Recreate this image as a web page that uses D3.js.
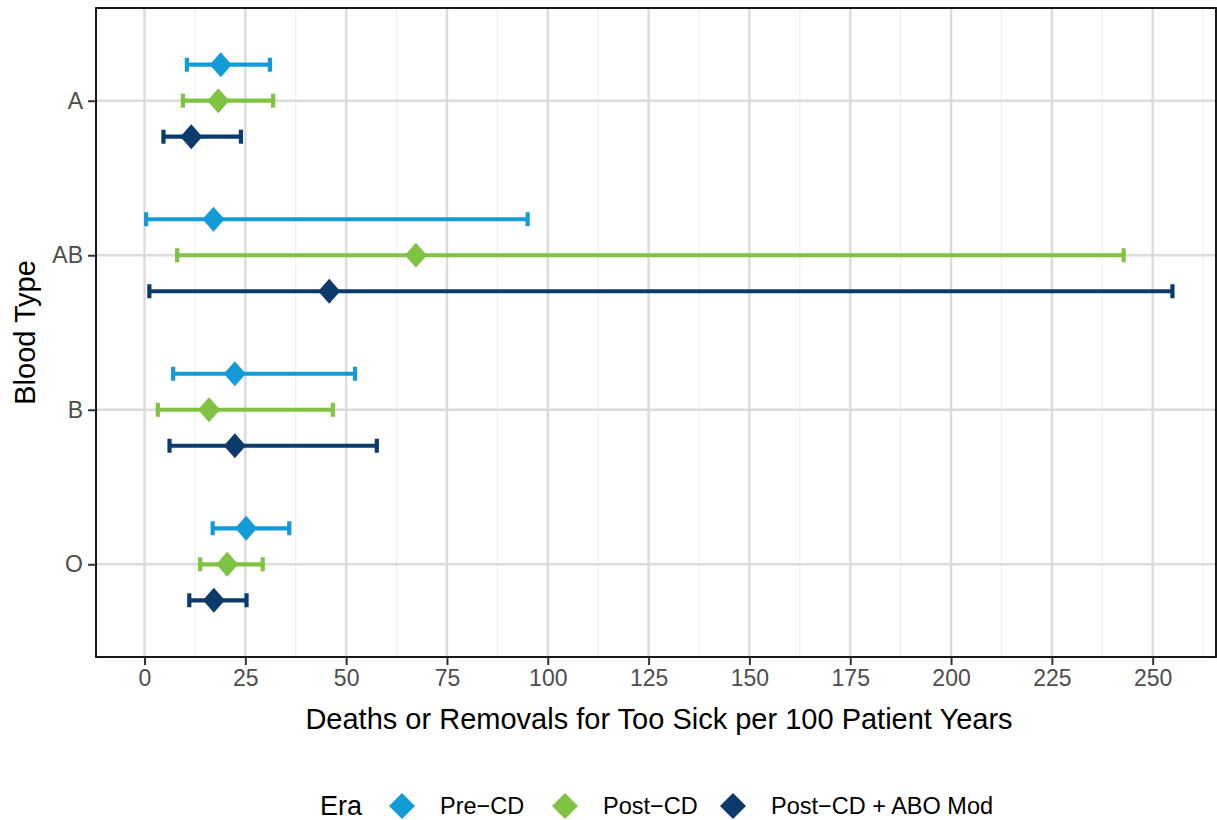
<!DOCTYPE html>
<html>
<head>
<meta charset="utf-8">
<script src="https://cdn.jsdelivr.net/npm/d3@7"></script>
<style>
  body { margin: 0; background: #fff; }
  svg text { font-family: "Liberation Sans", Arial, sans-serif; }
</style>
</head>
<body>
<svg id="chart" width="1217" height="820"></svg>
<script>
// blood types, top to bottom
const bloodTypes = ["A", "AB", "B", "O"]
const eras = ["Pre\u2212CD", "Post\u2212CD", "Post\u2212CD + ABO Mod"]
const eraColors = ["#139bd7", "#80c241", "#0b3a6b"]

// estimates and interval ends, one array per era, ordered like bloodTypes
const preEst = [18.9, 17.1, 22.4, 25.2]
const preLo = [10.5, 0.4, 7.1, 16.9]
const preHi = [31.1, 95.0, 52.2, 35.9]

const postEst = [18.3, 67.3, 16.0, 20.5]
const postLo = [9.5, 8.1, 3.3, 13.8]
const postHi = [31.9, 242.8, 46.7, 29.3]

const aboEst = [11.6, 45.8, 22.4, 17.2]
const aboLo = [4.7, 1.2, 6.2, 11.1]
const aboHi = [23.9, 254.9, 57.6, 25.3]

const xTicks = [0, 25, 50, 75, 100, 125, 150, 175, 200, 225, 250]

const series = [
    {era: eras[0], est: preEst, lo: preLo, hi: preHi},
    {era: eras[1], est: postEst, lo: postLo, hi: postHi},
    {era: eras[2], est: aboEst, lo: aboLo, hi: aboHi}
]
let rows = []
series.forEach(s => bloodTypes.forEach((b, i) => {
    rows.push({era: s.era, type: b, est: s.est[i], lo: s.lo[i], hi: s.hi[i]})
}))

const panel = {left: 96, right: 1216, top: 8, bottom: 657}

let x = d3.scaleLinear()
          .domain([-12.03, 265.7])
          .range([panel.left, panel.right])
let y = d3.scalePoint()
          .domain(bloodTypes)
          .range([panel.top, panel.bottom])
          .padding(0.6)
let dodge = d3.scalePoint()
              .domain(eras)
              .range([-36, 36])
let color = d3.scaleOrdinal()
              .domain(eras)
              .range(eraColors)

const svg = d3.select('#chart')

// diamond, a bit taller than wide like ggplot shape 18
const diamond = (w, h) => `M0,${-h}L${w},0L0,${h}L${-w},0Z`

// grid
let minor = d3.range(12.5, 265, 25)
svg.append('g')
   .selectAll('line')
   .data(minor)
   .enter()
   .append('line')
   .attr('x1', d => x(d)).attr('x2', d => x(d))
   .attr('y1', panel.top).attr('y2', panel.bottom)
   .attr('stroke', '#efefef')
   .attr('stroke-width', 1.2)

svg.append('g')
   .selectAll('line')
   .data(xTicks)
   .enter()
   .append('line')
   .attr('x1', d => x(d)).attr('x2', d => x(d))
   .attr('y1', panel.top).attr('y2', panel.bottom)
   .attr('stroke', '#dbdbdb')
   .attr('stroke-width', 2.4)

svg.append('g')
   .selectAll('line')
   .data(bloodTypes)
   .enter()
   .append('line')
   .attr('x1', panel.left).attr('x2', panel.right)
   .attr('y1', d => y(d)).attr('y2', d => y(d))
   .attr('stroke', '#dbdbdb')
   .attr('stroke-width', 2.4)

// error bars
let bars = svg.append('g')
              .selectAll('g')
              .data(rows)
              .enter()
              .append('g')
              .attr('transform', d => "translate(0, " + (y(d.type) + dodge(d.era)) + ")")
              .attr('stroke', d => color(d.era))
              .attr('fill', d => color(d.era))

bars.append('line')
    .attr('x1', d => x(d.lo)).attr('x2', d => x(d.hi))
    .attr('y1', 0).attr('y2', 0)
    .attr('stroke-width', 4.2)
bars.append('line')
    .attr('x1', d => x(d.lo)).attr('x2', d => x(d.lo))
    .attr('y1', -7).attr('y2', 7)
    .attr('stroke-width', 4.2)
bars.append('line')
    .attr('x1', d => x(d.hi)).attr('x2', d => x(d.hi))
    .attr('y1', -7).attr('y2', 7)
    .attr('stroke-width', 4.2)
bars.append('path')
    .attr('d', diamond(11, 12.5))
    .attr('transform', d => "translate(" + x(d.est) + ", 0)")
    .attr('stroke', 'none')

// panel border
svg.append('rect')
   .attr('x', panel.left).attr('y', panel.top)
   .attr('width', panel.right - panel.left)
   .attr('height', panel.bottom - panel.top)
   .attr('fill', 'none')
   .attr('stroke', '#000')
   .attr('stroke-width', 1.8)

// axes
let xAxis = svg.append('g')
               .attr('transform', "translate(0, " + panel.bottom + ")")
               .call(d3.axisBottom(x).tickValues(xTicks).tickSize(8).tickPadding(5))
let yAxis = svg.append('g')
               .attr('transform', "translate(" + panel.left + ", 0)")
               .call(d3.axisLeft(y).tickSize(8).tickPadding(5))
;[xAxis, yAxis].forEach(a => {
    a.select('.domain').remove()
    a.selectAll('.tick line').attr('stroke', '#333').attr('stroke-width', 2)
    a.selectAll('.tick text')
     .attr('fill', '#4d4d4d')
     .style('font-size', '23px')
})

svg.append('text')
   .attr('x', 659)
   .attr('y', 729)
   .attr('text-anchor', 'middle')
   .style('font-size', '29px')
   .text('Deaths or Removals for Too Sick per 100 Patient Years')

svg.append('text')
   .attr('transform', "translate(35, " + ((panel.top + panel.bottom) / 2) + ") rotate(-90)")
   .attr('text-anchor', 'middle')
   .style('font-size', '29px')
   .text('Blood Type')

// legend
let legend = svg.append('g')
                .attr('transform', 'translate(0, 806)')
legend.append('text')
      .attr('x', 320)
      .attr('y', 9)
      .style('font-size', '27px')
      .text('Era')
const legendX = [402, 565, 733]
let items = legend.selectAll('g.item')
                  .data(eras)
                  .enter()
                  .append('g')
                  .attr('class', 'item')
                  .attr('transform', (d, i) => "translate(" + legendX[i] + ", 0)")
items.append('path')
     .attr('d', diamond(13, 13))
     .attr('fill', d => color(d))
items.append('text')
     .attr('x', 38)
     .attr('y', 8)
     .style('font-size', '23.5px')
     .text(d => d)
</script>
</body>
</html>
